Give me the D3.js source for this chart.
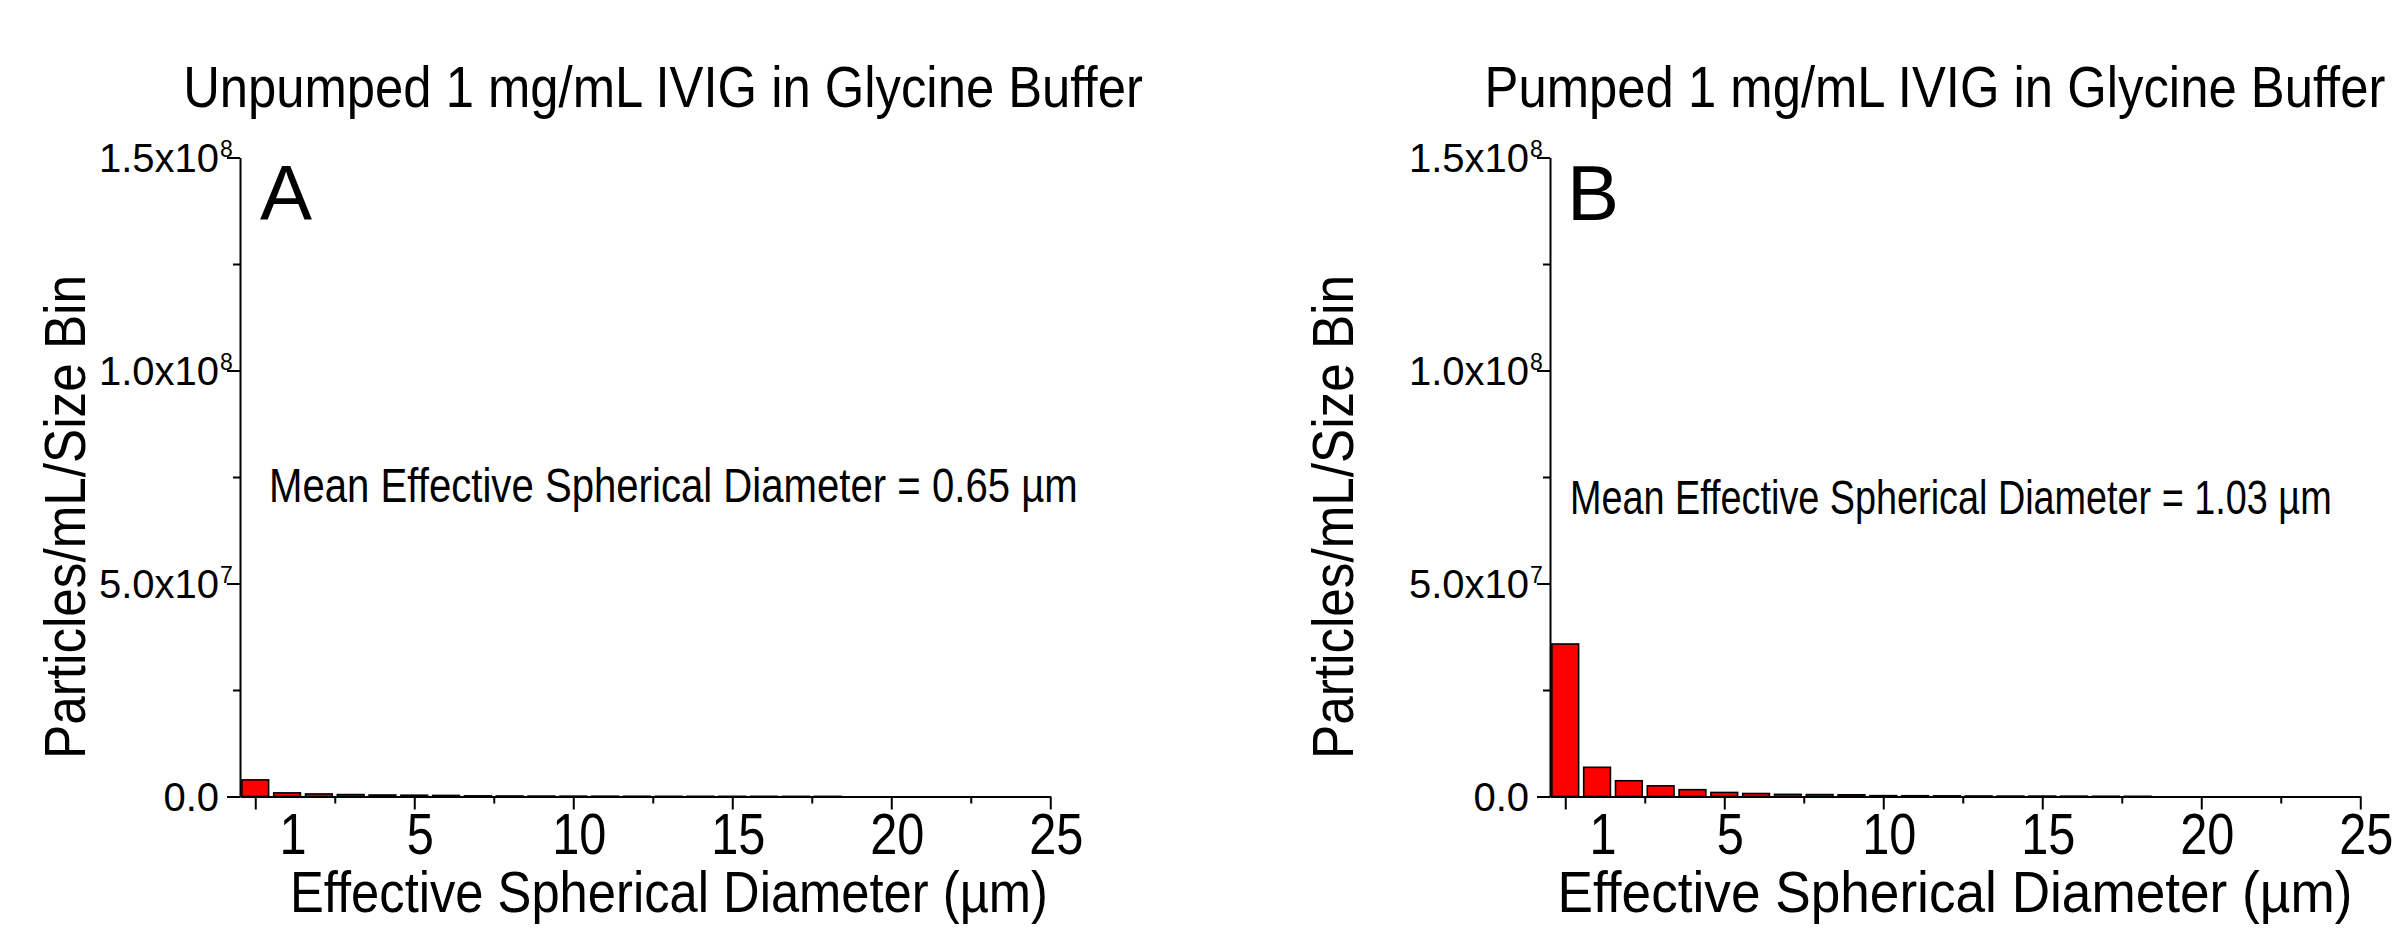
<!DOCTYPE html>
<html>
<head>
<meta charset="utf-8">
<script src="https://cdn.jsdelivr.net/npm/d3@7/dist/d3.min.js"></script>
<style>
  body { margin: 0; background: #fff; }
  text { font-family: "Liberation Sans", Arial, Helvetica, sans-serif; fill: #000; }
</style>
</head>
<body>
<svg id="chart" width="2395" height="928"></svg>
<script>
// size bins (um), one bar per bin
var binCenters = [0, 1, 2, 3, 4, 5, 6, 7, 8, 9, 10, 11, 12, 13, 14, 15, 16, 17, 18];
// particles/mL per size bin
var unpumpedCounts = [3.9e6, 0.85e6, 0.6e6, 0.45e6, 0.35e6, 0.3e6, 0.25e6, 0.15e6, 0.12e6, 0.1e6,
                      0.08e6, 0.07e6, 0.06e6, 0.05e6, 0.05e6, 0.04e6, 0.04e6, 0.03e6, 0.03e6];
var pumpedCounts = [3.58e7, 6.85e6, 3.7e6, 2.5e6, 1.6e6, 0.95e6, 0.7e6, 0.5e6, 0.45e6, 0.4e6,
                    0.2e6, 0.18e6, 0.15e6, 0.12e6, 0.1e6, 0.1e6, 0.08e6, 0.06e6, 0.05e6];

var yMajorTicks = [0, 5e7, 1e8, 1.5e8];
var yMinorTicks = [2.5e7, 7.5e7, 1.25e8];
var xMajorTicks = [0, 5, 10, 15, 20, 25];
var xMinorTicks = [2.5, 7.5, 12.5, 17.5, 22.5];
var xTickLabels = [1, 5, 10, 15, 20, 25];

var panelTitles = ["Unpumped 1 mg/mL IVIG in Glycine Buffer", "Pumped 1 mg/mL IVIG in Glycine Buffer"];
var panelLetters = ["A", "B"];
var meanDiameters = ["0.65", "1.03"];
var seriesList = [unpumpedCounts, pumpedCounts];

// layout for each panel (pixel positions only)
var layout = [
  { axisX: 240, titleX: 663, titleW: 960, noteX: 269, noteY: 502, noteW: 809,
    yTitleX: 85, xTitleX: 669, xTitleW: 758, letterX: 260 },
  { axisX: 1550, titleX: 1935, titleW: 901, noteX: 1570, noteY: 514, noteW: 762,
    yTitleX: 1353, xTitleX: 1955, xTitleW: 795, letterX: 1567 }
];

var svg = d3.select("#chart");
var barWidth = 0.84;

// squeeze a text horizontally to a target width, around its anchor point
function squeeze(sel, w, ax, pre) {
  var n = sel.node();
  var k = w / n.getComputedTextLength();
  sel.attr("transform", (pre || "") + "translate(" + ax + ",0) scale(" + k + ",1) translate(" + (-ax) + ",0)");
}

layout.forEach(function(L, i) {
  var x = d3.scaleLinear().domain([-0.48, 25]).range([L.axisX, L.axisX + 25.48 * 31.8]);
  var y = d3.scaleLinear().domain([0, 1.5e8]).range([796.5, 157.5]);
  var g = svg.append("g");
  var data = binCenters.map(function(c, k) { return { c: c, v: seriesList[i][k] }; });

  // bars
  g.selectAll("rect.bar").data(data).enter().append("rect")
    .attr("class", "bar")
    .attr("x", function(d) { return x(d.c - barWidth / 2); })
    .attr("width", x(barWidth) - x(0))
    .attr("y", function(d) { return y(d.v); })
    .attr("height", function(d) { return y(0) - y(d.v); })
    .style("fill", "#ff0000")
    .style("stroke", "#000")
    .style("stroke-width", 1.6);

  // y axis, major + minor ticks
  g.append("g").attr("transform", "translate(" + L.axisX + ",0)")
    .call(d3.axisLeft(y).tickValues(yMajorTicks).tickSize(13).tickSizeOuter(0).tickFormat(""));
  g.append("g").attr("transform", "translate(" + L.axisX + ",0)")
    .call(d3.axisLeft(y).tickValues(yMinorTicks).tickSize(7).tickFormat(""))
    .select(".domain").remove();

  // x axis
  g.append("g").attr("transform", "translate(0," + y(0) + ")")
    .call(d3.axisBottom(x).tickValues(xMajorTicks).tickSize(13).tickSizeOuter(0).tickFormat(""));
  g.append("g").attr("transform", "translate(0," + y(0) + ")")
    .call(d3.axisBottom(x).tickValues(xMinorTicks).tickSize(7).tickFormat(""))
    .select(".domain").remove();

  g.selectAll(".domain, .tick line").style("stroke", "#000").style("stroke-width", 2);

  // y tick labels: mantissa x10 + exponent
  yMajorTicks.forEach(function(v) {
    var ty = y(v);
    var endX = L.axisX - 21;
    if (v === 0) {
      g.append("text").attr("x", endX).attr("y", ty + 14).attr("text-anchor", "end")
        .attr("font-size", 40).text("0.0");
      return;
    }
    var e = Math.floor(Math.log10(v));
    var m = (v / Math.pow(10, e)).toFixed(1);
    g.append("text").attr("x", endX).attr("y", ty + 14).attr("text-anchor", "end")
      .attr("font-size", 40).text(m + "x10");
    g.append("text").attr("x", endX + 1).attr("y", ty - 1)
      .attr("font-size", 23).text(e);
  });

  // x tick labels
  g.selectAll("text.xlab").data(xTickLabels).enter().append("text")
    .attr("class", "xlab")
    .attr("x", function(d) { return x(d) + 6; })
    .attr("y", 854)
    .attr("text-anchor", "middle")
    .attr("font-size", 58)
    .attr("transform", function(d) { var cx = x(d) + 6; return "translate(" + cx + ",0) scale(0.84,1) translate(" + (-cx) + ",0)"; })
    .text(function(d) { return d; });

  // titles
  g.append("text").attr("x", L.titleX).attr("y", 107).attr("text-anchor", "middle")
    .attr("font-size", 58).text(panelTitles[i])
    .call(squeeze, L.titleW, L.titleX);

  g.append("text").attr("x", L.letterX).attr("y", 220).attr("font-size", 78).text(panelLetters[i]);

  g.append("text").attr("x", L.noteX).attr("y", L.noteY).attr("font-size", 48)
    .text("Mean Effective Spherical Diameter = " + meanDiameters[i] + " \u00b5m")
    .call(squeeze, L.noteW, L.noteX);

  g.append("text").attr("x", 0).attr("y", 0)
    .attr("text-anchor", "middle").attr("font-size", 58)
    .text("Particles/mL/Size Bin")
    .call(squeeze, 484, 0, "translate(" + L.yTitleX + ",517) rotate(-90) ");

  g.append("text").attr("x", L.xTitleX).attr("y", 912).attr("text-anchor", "middle")
    .attr("font-size", 57).text("Effective Spherical Diameter (\u00b5m)")
    .call(squeeze, L.xTitleW, L.xTitleX);
});
</script>
</body>
</html>
